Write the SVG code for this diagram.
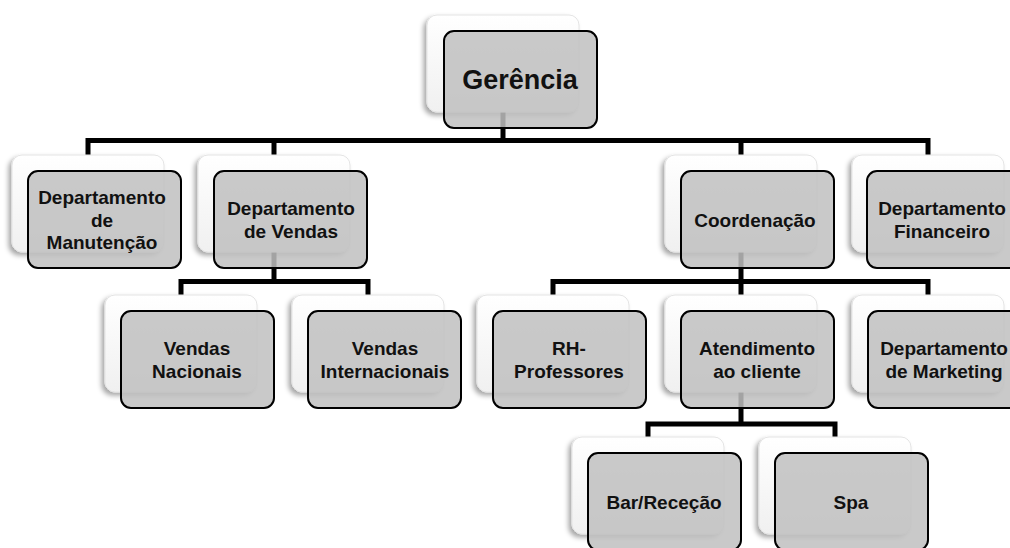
<svg xmlns="http://www.w3.org/2000/svg" width="1010" height="548" viewBox="0 0 1010 548">
<style>
.back{fill:url(#gb);stroke:#e4e4e4;stroke-width:1;filter:url(#sh)}
.front{fill:#c0c0c0;fill-opacity:0.85;stroke:#000;stroke-width:2}
.t{font-family:"Liberation Sans",Arial,sans-serif;font-weight:bold;font-size:19px;text-anchor:middle;fill:#111}
.big{font-size:27px}
.c{fill:none;stroke:#000;stroke-width:5;stroke-linejoin:miter;stroke-linecap:butt}
</style>
<defs>
<linearGradient id="gb" x1="0" y1="0" x2="0" y2="1">
<stop offset="0" stop-color="#ffffff"/>
<stop offset="1" stop-color="#f0f0f0"/>
</linearGradient>
<filter id="sh" x="-20%" y="-20%" width="140%" height="140%">
<feDropShadow dx="-3" dy="3" stdDeviation="2.5" flood-color="#000" flood-opacity="0.35"/>
</filter>
</defs>
<rect width="1010" height="548" fill="#fff"/>
<g id="connectors">
<path class="c" d="M503 111V140.5"/>
<path class="c" d="M88 155V140.5H928V155M274 140.5V155M741 140.5V155"/>
<path class="c" d="M274 252V281.5"/>
<path class="c" d="M181 295V281.5H368V295"/>
<path class="c" d="M741 252V281.5"/>
<path class="c" d="M553 295V281.5H928V295M741 281.5V295"/>
<path class="c" d="M741 392V424"/>
<path class="c" d="M648 437V424H835V437"/>
</g>
<g id="n-gerencia">
<rect class="back" x="427" y="15" width="152" height="97" rx="10"/>
<rect class="front" x="444" y="31" width="153" height="97" rx="10"/>
<text class="t big" x="520" y="89">Gerência</text>
</g>
<g id="n-manutencao">
<rect class="back" x="12" y="155" width="152" height="97" rx="10"/>
<rect class="front" x="28" y="171" width="153" height="97" rx="10"/>
<text class="t" x="102" y="204">Departamento</text>
<text class="t" x="102" y="226.5">de</text>
<text class="t" x="102" y="249">Manutenção</text>
</g>
<g id="n-vendas">
<rect class="back" x="198" y="155" width="152" height="97" rx="10"/>
<rect class="front" x="214" y="171" width="153" height="97" rx="10"/>
<text class="t" x="291" y="215">Departamento</text>
<text class="t" x="291" y="237.5">de Vendas</text>
</g>
<g id="n-coordenacao">
<rect class="back" x="665" y="155" width="152" height="97" rx="10"/>
<rect class="front" x="681" y="171" width="153" height="97" rx="10"/>
<text class="t" x="755" y="226.5">Coordenação</text>
</g>
<g id="n-financeiro">
<rect class="back" x="852" y="155" width="152" height="97" rx="10"/>
<rect class="front" x="867" y="171" width="153" height="97" rx="10"/>
<text class="t" x="942" y="215">Departamento</text>
<text class="t" x="942" y="237.5">Financeiro</text>
</g>
<g id="n-vendas-nacionais">
<rect class="back" x="105" y="295" width="152" height="97" rx="10"/>
<rect class="front" x="121" y="311" width="153" height="97" rx="10"/>
<text class="t" x="197" y="355">Vendas</text>
<text class="t" x="197" y="377.5">Nacionais</text>
</g>
<g id="n-vendas-internacionais">
<rect class="back" x="292" y="295" width="152" height="97" rx="10"/>
<rect class="front" x="308" y="311" width="153" height="97" rx="10"/>
<text class="t" x="385" y="355">Vendas</text>
<text class="t" x="385" y="377.5">Internacionais</text>
</g>
<g id="n-rh">
<rect class="back" x="477" y="295" width="152" height="97" rx="10"/>
<rect class="front" x="493" y="311" width="153" height="97" rx="10"/>
<text class="t" x="569" y="355">RH-</text>
<text class="t" x="569" y="377.5">Professores</text>
</g>
<g id="n-atendimento">
<rect class="back" x="665" y="295" width="152" height="97" rx="10"/>
<rect class="front" x="681" y="311" width="153" height="97" rx="10"/>
<text class="t" x="757" y="355">Atendimento</text>
<text class="t" x="757" y="377.5">ao cliente</text>
</g>
<g id="n-marketing">
<rect class="back" x="852" y="295" width="152" height="97" rx="10"/>
<rect class="front" x="868" y="311" width="153" height="97" rx="10"/>
<text class="t" x="944" y="355">Departamento</text>
<text class="t" x="944" y="377.5">de Marketing</text>
</g>
<g id="n-bar">
<rect class="back" x="572" y="437" width="152" height="97" rx="10"/>
<rect class="front" x="588" y="453" width="153" height="97" rx="10"/>
<text class="t" x="664" y="508.5">Bar/Receção</text>
</g>
<g id="n-spa">
<rect class="back" x="759" y="437" width="152" height="97" rx="10"/>
<rect class="front" x="775" y="453" width="153" height="97" rx="10"/>
<text class="t" x="851" y="508.5">Spa</text>
</g>
</svg>
